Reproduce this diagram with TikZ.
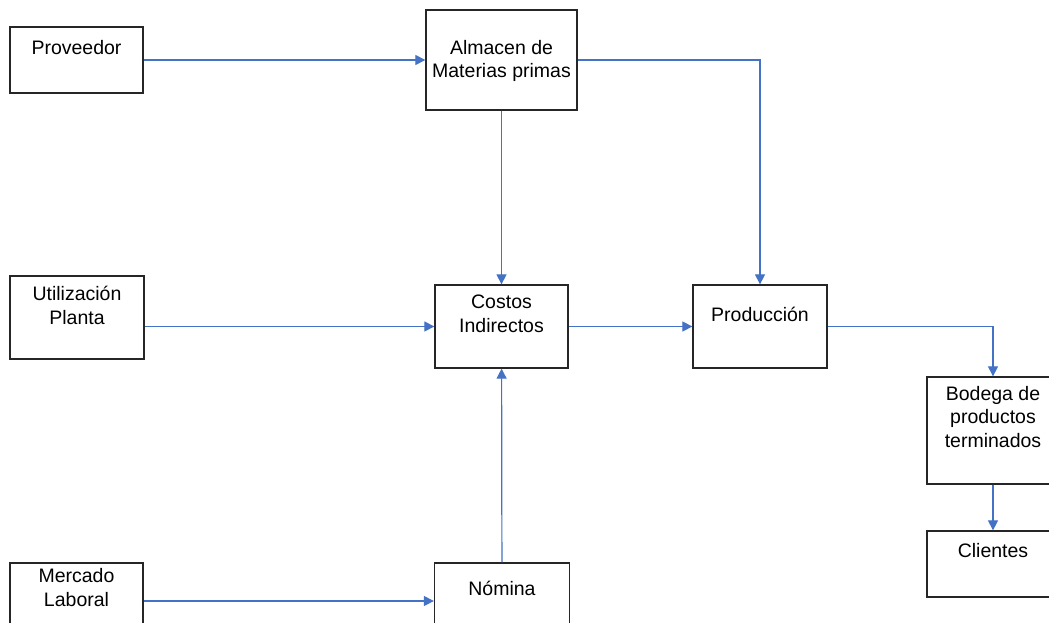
\documentclass[tikz,border=0pt]{standalone}
\usepackage{fontspec}
\setmainfont{Liberation Sans}
\usetikzlibrary{arrows.meta,positioning}
\definecolor{lnk}{RGB}{68,114,196}
\tikzset{bx/.style={draw=black!85,line width=1.3pt,inner sep=0pt},
 tx/.style={align=center,inner sep=0pt,anchor=base,font=\fontsize{19.5}{23.5}\selectfont},
 ar/.style={draw=lnk,line width=1.2pt,-{Triangle[length=10pt,width=10pt]}}}

\begin{document}
\begin{tikzpicture}[x=1pt,y=-1pt]
\clip (0,0) rectangle (1049,623);
\fill[white] (0,0) rectangle (1049,623);
% cajas
\node[bx,minimum width=133pt,minimum height=66pt](prov) at (76.5,60){};
\node[bx,minimum width=151pt,minimum height=100pt](alm) at (501.5,60){};
\node[bx,minimum width=134pt,minimum height=83pt](util) at (77,317.5){};
\node[bx,minimum width=133pt,minimum height=83pt](cost) at (501.5,326.5){};
\node[bx,minimum width=134pt,minimum height=83pt](prod) at (760,326.5){};
\node[bx,minimum width=132pt,minimum height=107pt](bod) at (993,430.5){};
\node[bx,minimum width=132pt,minimum height=66pt](cli) at (993,564){};
\node[bx,minimum width=133pt,minimum height=76pt](merc) at (76.5,601){};
\node[bx,minimum width=135pt,minimum height=76pt](nom) at (502,601){};
% textos (base = ultima linea)
\node[tx](provt) at ([yshift=-28pt]prov.north){Proveedor};
\node[tx](almt) at ([yshift=-68.5pt]alm.north){Almacen de\\Materias primas};
\node[tx](utilt) at ([yshift=-49pt]util.north){Utilización\\Planta};
\node[tx](costt) at ([yshift=-48pt]cost.north){Costos\\Indirectos};
\node[tx](prodt) at ([yshift=-37pt]prod.north){Producción};
\node[tx](bodt) at ([yshift=-71pt]bod.north){Bodega de\\productos\\terminados};
\node[tx](clit) at ([yshift=-27pt]cli.north){Clientes};
\node[tx](merct) at ([yshift=-44pt]merc.north){Mercado\\Laboral};
\node[tx](nomt) at ([yshift=-33pt]nom.north){Nómina};
% flechas
\draw[ar](prov)--(alm);\draw[ar](alm.east)-|(prod.north);\draw[ar](alm)--(cost);
\draw[ar](util.east|-cost)--(cost.west);\draw[ar](cost)--(prod);\draw[ar](prod.east)-|(bod.north);
\draw[ar](bod)--(cli);\draw[ar](merc)--(nom);\draw[ar](nom)--(cost);
\end{tikzpicture}
\end{document}
